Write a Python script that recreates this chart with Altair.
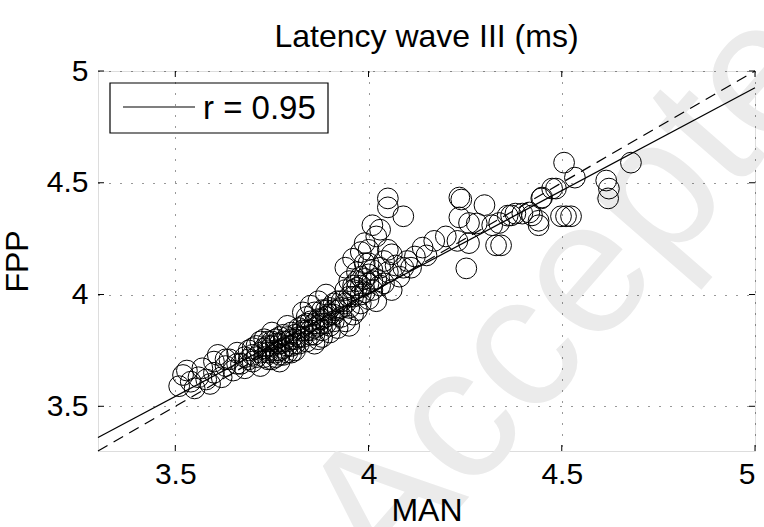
import altair as alt
import pandas as pd

# ---- data ----
man = [
    3.51, 3.52, 3.53, 3.54, 3.55, 3.56, 3.57, 3.58, 3.59, 3.60, 3.60, 3.61, 3.62, 3.63,
    3.64, 3.65, 3.66, 3.67, 3.68, 3.68, 3.69, 3.70, 3.70, 3.71, 3.72, 3.72,
    3.73, 3.73, 3.74, 3.74, 3.75, 3.75, 3.76, 3.76, 3.77, 3.77, 3.78, 3.78, 3.79, 3.79,
    3.80, 3.80, 3.81, 3.81, 3.82, 3.82, 3.73, 3.75, 3.77, 3.79, 3.76, 3.78, 3.74, 3.80,
    3.72, 3.76, 3.71, 3.74, 3.77, 3.79, 3.81,
    3.83, 3.83, 3.84, 3.84, 3.85, 3.85, 3.86, 3.86, 3.87, 3.87, 3.88, 3.88, 3.89, 3.89,
    3.90, 3.90, 3.91, 3.91, 3.92, 3.92, 3.85, 3.87, 3.89, 3.83, 3.86, 3.88, 3.90, 3.84,
    3.86, 3.88, 3.91,
    3.93, 3.93, 3.94, 3.94, 3.95, 3.95, 3.96, 3.96, 3.97, 3.97, 3.98, 3.98, 3.99, 3.99,
    4.00, 4.00, 4.01, 4.01, 4.02, 4.02, 3.94, 3.96, 3.98, 4.00, 3.95, 3.97, 4.03, 4.03,
    4.01, 4.02, 3.99, 3.96, 3.98, 4.00,
    3.74, 3.75, 3.76, 3.77, 3.78, 3.79, 3.80, 3.81, 3.82, 3.83, 3.84, 3.85, 3.86, 3.87,
    3.88, 3.89, 3.90, 3.91, 3.92, 3.93, 3.94, 3.95, 3.96, 3.97, 3.98, 3.99, 4.00, 4.01,
    3.70, 3.69, 3.66, 3.63,
    4.05, 4.05, 4.09, 4.14, 4.17, 4.20, 4.23, 4.11, 4.15, 4.05, 4.03, 4.04, 4.05, 4.06,
    4.07, 4.08, 4.10, 4.04, 4.06, 4.09, 4.12,
    4.235, 4.24, 4.30, 4.235, 4.26, 4.28, 4.32, 4.33, 4.253, 4.36, 4.38, 4.416, 4.44, 4.26,
    4.449, 4.485, 4.506, 4.534, 4.498, 4.511, 4.524, 4.369, 4.398, 4.423, 4.44, 4.343,
    4.338, 4.475, 4.447, 4.615, 4.622, 4.62, 4.679,
]
fpp = [
    3.59, 3.64, 3.66, 3.61, 3.58, 3.63, 3.67, 3.62, 3.60, 3.65, 3.70, 3.73, 3.63, 3.68,
    3.71, 3.66, 3.74, 3.69, 3.72, 3.67, 3.75, 3.70, 3.73, 3.77, 3.68, 3.74,
    3.76, 3.72, 3.79, 3.74, 3.71, 3.77, 3.80, 3.75, 3.73, 3.78, 3.82, 3.76, 3.74, 3.79,
    3.77, 3.83, 3.75, 3.80, 3.78, 3.85, 3.80, 3.83, 3.70, 3.86, 3.72, 3.73, 3.77, 3.74,
    3.79, 3.78, 3.72, 3.71, 3.75, 3.77, 3.82,
    3.81, 3.86, 3.79, 3.90, 3.84, 3.88, 3.82, 3.92, 3.86, 3.80, 3.89, 3.84, 3.93, 3.87,
    3.83, 3.91, 3.96, 3.88, 3.85, 3.93, 3.95, 3.97, 4.00, 3.92, 3.78, 3.81, 3.86, 3.84,
    3.87, 3.93, 3.91,
    3.90, 3.97, 4.02, 3.88, 3.94, 4.06, 3.99, 3.91, 4.03, 4.10, 3.96, 4.08, 4.01, 4.14,
    3.98, 4.05, 4.11, 4.02, 4.07, 3.97, 4.12, 4.16, 4.19, 4.20, 3.86, 3.93, 4.04, 4.12,
    4.31, 4.26, 4.23, 4.04, 4.00, 4.14,
    3.75, 3.79, 3.74, 3.81, 3.79, 3.81, 3.80, 3.78, 3.81, 3.84, 3.87, 3.82, 3.85, 3.89,
    3.87, 3.90, 3.94, 3.93, 3.97, 3.94, 3.96, 3.99, 4.02, 4.06, 4.04, 4.07, 4.09, 4.06,
    3.76, 3.71, 3.69, 3.71,
    4.43, 4.39, 4.35, 4.21, 4.24, 4.26, 4.24, 4.12, 4.175, 4.20, 4.29, 4.05, 4.10, 4.02,
    4.13, 4.08, 4.15, 4.15, 4.18, 4.12, 4.17,
    4.434, 4.425, 4.40, 4.345, 4.32, 4.318, 4.31, 4.22, 4.117, 4.353, 4.362, 4.367, 4.33, 4.23,
    4.434, 4.474, 4.59, 4.523, 4.35, 4.35, 4.35, 4.354, 4.362, 4.354, 4.31, 4.22,
    4.32, 4.474, 4.43, 4.51, 4.474, 4.43, 4.59,
]
x_ticks = [3.5, 4.0, 4.5, 5.0]
y_ticks = [3.5, 4.0, 4.5, 5.0]
fit_x = [3.3, 5.0]
fit_y = [3.36, 4.925]
ident_x = [3.3, 5.0]
ident_y = [3.3, 5.0]
legend_label = "r = 0.95"
title_text = "Latency wave III (ms)"
watermark = "Accepted"

W, H = 657, 380
FONT = "Liberation Sans"

xs = alt.Scale(domain=[3.3, 5.0], nice=False, zero=False)
ys = alt.Scale(domain=[3.3, 5.0], nice=False, zero=False)

common_axis = dict(
    grid=True, gridDash=[1, 10], gridColor="black", gridOpacity=0.8, gridWidth=1,
    tickSize=0, domain=False, labelFont=FONT, labelFontSize=30, labelColor="black",
    titleFont=FONT, titleFontSize=32, titleFontWeight="normal", titleColor="black",
    format="~g", zindex=1,
)
X = alt.X("MAN:Q", scale=xs, axis=alt.Axis(values=x_ticks, title="MAN", labelPadding=8,
                                          titlePadding=6, **common_axis))
Y = alt.Y("FPP:Q", scale=ys, axis=alt.Axis(values=y_ticks, title="FPP", labelPadding=10,
                                          titlePadding=12, **common_axis))

pts = pd.DataFrame({"MAN": man, "FPP": fpp})
fit_df = pd.DataFrame({"MAN": fit_x, "FPP": fit_y})
ident_df = pd.DataFrame({"MAN": ident_x, "FPP": ident_y})
xt_df = pd.DataFrame({"MAN": x_ticks})
yt_df = pd.DataFrame({"FPP": y_ticks})
leg_df = pd.DataFrame({"label": [legend_label]})
title_df = pd.DataFrame({"t": [title_text]})

wm = alt.Chart(pd.DataFrame({"t": [watermark]})).mark_text(
    font=FONT, fontSize=190, color="#ebebeb", angle=311, align="center", baseline="middle"
).encode(text="t:N", x=alt.value(505), y=alt.value(185))

title = alt.Chart(title_df).mark_text(
    font=FONT, fontSize=32, color="black", align="center", baseline="alphabetic"
).encode(text="t:N", x=alt.value(W / 2), y=alt.value(-24))

scatter = alt.Chart(pts).mark_point(
    shape="circle", filled=False, color="black", size=430, strokeWidth=1, opacity=1
).encode(x=X, y=Y)

fit = alt.Chart(fit_df).mark_line(strokeWidth=1.2, color="black").encode(x=X, y=Y)

ident = alt.Chart(ident_df).mark_line(strokeWidth=1.2, strokeDash=[11, 7], color="black").encode(x=X, y=Y)

xt_bottom = alt.Chart(xt_df).mark_rule(color="black", strokeWidth=1).encode(
    x=X, y=alt.value(H), y2=alt.value(H - 6))
xt_top = alt.Chart(xt_df).mark_rule(color="black", strokeWidth=1).encode(
    x=X, y=alt.value(0), y2=alt.value(6))
yt_left = alt.Chart(yt_df).mark_rule(color="black", strokeWidth=1).encode(
    y=Y, x=alt.value(0), x2=alt.value(6))
yt_right = alt.Chart(yt_df).mark_rule(color="black", strokeWidth=1).encode(
    y=Y, x=alt.value(W), x2=alt.value(W - 6))

# legend box (drawn by hand, top-left inside the plot)
leg_box = alt.Chart(leg_df).mark_rect(fill="white", stroke="black", strokeWidth=1.2).encode(
    x=alt.value(12), x2=alt.value(230), y=alt.value(12), y2=alt.value(62))
leg_line = alt.Chart(leg_df).mark_rule(color="black", strokeWidth=1.2).encode(
    x=alt.value(25), x2=alt.value(97), y=alt.value(36))
leg_text = alt.Chart(leg_df).mark_text(
    font=FONT, fontSize=33, color="black", align="left", baseline="middle"
).encode(text="label:N", x=alt.value(105), y=alt.value(38))

chart = alt.layer(
    wm, title, scatter, ident, fit, xt_bottom, xt_top, yt_left, yt_right,
    leg_box, leg_line, leg_text
).properties(
    width=W, height=H,
    autosize=alt.AutoSizeParams(type="none"),
    padding={"left": 98, "top": 71, "right": 9, "bottom": 76},
).configure_view(stroke="black", strokeWidth=1.2).configure(background="white")

chart.save("out.html", embed_options={"renderer": "svg", "actions": False})
